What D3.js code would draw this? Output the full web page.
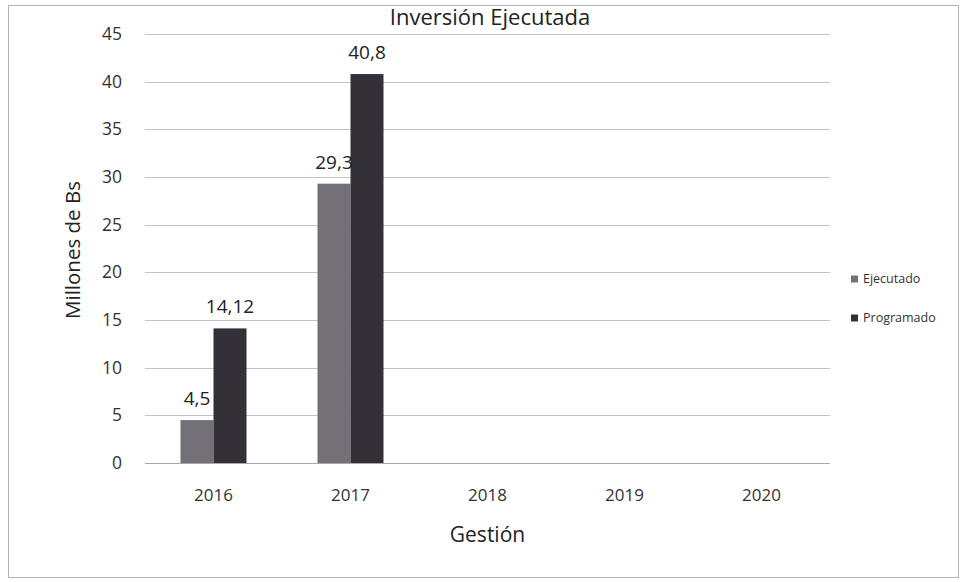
<!DOCTYPE html>
<html><head><meta charset="utf-8">
<script src="https://cdn.jsdelivr.net/npm/d3@7"></script>
<style>body{margin:0;background:#fff}svg{display:block}</style>
</head><body><svg id="c" width="963" height="582"></svg>
<script>
const categories = ["2016","2017","2018","2019","2020"];
const seriesNames = ["Ejecutado","Programado"];
const ejecutado = [4.5, 29.3, null, null, null];
const programado = [14.12, 40.8, null, null, null];
const labelsEjecutado = ["4,5","29,3","","",""];
const labelsProgramado = ["14,12","40,8","","",""];
const yTicks = [0,5,10,15,20,25,30,35,40,45];
const colors = {"Ejecutado":"#737077","Programado":"#333037"};

const svg = d3.select("#c");
const font = "'Open Sans', 'DejaVu Sans', sans-serif";
const m = {l:145, r:830, t:34, b:463};

// outer border
svg.append("rect").attr("x",8.5).attr("y",5.5).attr("width",950).attr("height",572)
  .attr("fill","none").attr("stroke","#b5b5b5").attr("stroke-width",1);

// title
svg.append("text").attr("x",490).attr("y",25).attr("text-anchor","middle")
  .attr("font-family",font).attr("font-size",22).attr("fill","#222")
  .text("Inversión Ejecutada");

const x = d3.scaleBand().domain(categories).range([m.l,m.r]);
const x1 = d3.scaleBand().domain(seriesNames).range([x.bandwidth()/2-33, x.bandwidth()/2+33]);
const y = d3.scaleLinear().domain([0,45]).range([m.b,m.t]);

// gridlines
svg.append("g").selectAll("line").data(yTicks).join("line")
  .attr("x1",m.l).attr("x2",m.r).attr("y1",d=>Math.round(y(d))+0.5).attr("y2",d=>Math.round(y(d))+0.5)
  .attr("stroke",d=>d===0?"#a8a8a8":"#c4c4c4").attr("stroke-width",1);

// y axis
const ya = svg.append("g").attr("transform",`translate(${m.l},0)`)
  .call(d3.axisLeft(y).tickValues(yTicks).tickSize(0).tickPadding(23));
ya.select(".domain").remove();
ya.selectAll("text").attr("font-family",font).attr("font-size",17.5).attr("fill","#333");

// x axis
const xa = svg.append("g").attr("transform",`translate(0,${m.b})`)
  .call(d3.axisBottom(x).tickSize(0).tickPadding(26));
xa.select(".domain").remove();
xa.selectAll("text").attr("font-family",font).attr("font-size",17).attr("fill","#333");

// bars
const rows = categories.map((c,i)=>({c, vals:[
  {s:"Ejecutado", v:ejecutado[i], lab:labelsEjecutado[i]},
  {s:"Programado", v:programado[i], lab:labelsProgramado[i]}]}));
const g = svg.append("g").selectAll("g").data(rows).join("g")
  .attr("transform",d=>`translate(${x(d.c)},0)`);
g.selectAll("rect").data(d=>d.vals.filter(v=>v.v!=null)).join("rect")
  .attr("x",d=>x1(d.s)).attr("width",x1.bandwidth())
  .attr("y",d=>y(d.v)).attr("height",d=>y(0)-y(d.v))
  .attr("fill",d=>colors[d.s]);
g.selectAll("text").data(d=>d.vals.filter(v=>v.v!=null)).join("text")
  .attr("x",d=>x1(d.s)+x1.bandwidth()/2).attr("y",d=>y(d.v)-15)
  .attr("text-anchor","middle").attr("font-family",font).attr("font-size",19).attr("fill","#222")
  .text(d=>d.lab);

// axis titles
svg.append("text").attr("transform","translate(80,250) rotate(-90)").attr("text-anchor","middle")
  .attr("font-family",font).attr("font-size",20.5).attr("fill","#222").text("Millones de Bs");
svg.append("text").attr("x",x("2018")+x.bandwidth()/2).attr("y",542).attr("text-anchor","middle")
  .attr("font-family",font).attr("font-size",21).attr("fill","#222").text("Gestión");

// legend
const lg = svg.append("g").selectAll("g").data(seriesNames).join("g")
  .attr("transform",(d,i)=>`translate(851,${279+i*39})`);
lg.append("rect").attr("x",0).attr("y",-3.5).attr("width",7).attr("height",7).attr("fill",d=>colors[d]);
lg.append("text").attr("x",12).attr("y",0).attr("dy","0.35em").attr("font-family",font)
  .attr("font-size",12.5).attr("fill","#333").text(d=>d);
</script></body></html>
